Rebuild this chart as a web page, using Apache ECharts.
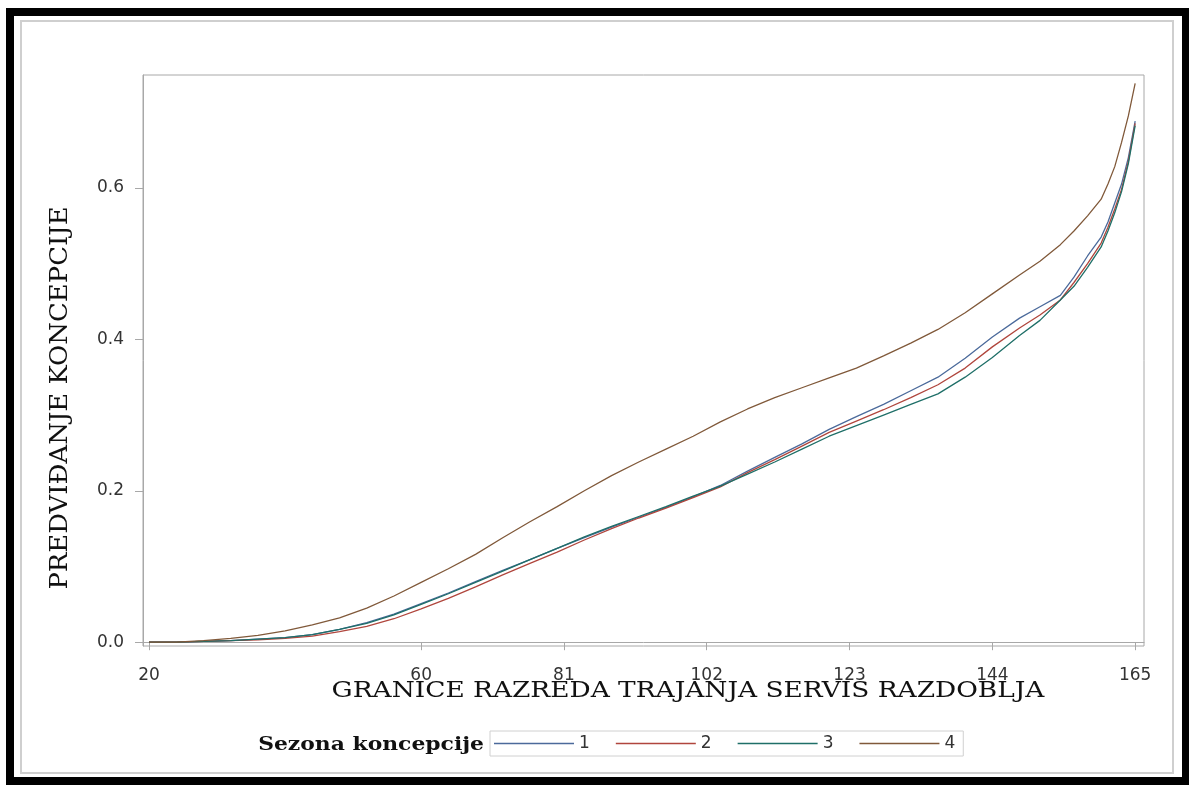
<!DOCTYPE html>
<html>
<head>
<meta charset="utf-8">
<script src="https://cdn.jsdelivr.net/npm/echarts@6/dist/echarts.min.js"></script>
<style>
html,body{margin:0;padding:0;background:#fff;}
#chart{width:1189px;height:785px;}
</style>
</head>
<body>
<div id="chart"></div>
<script>
// ---- data ----
const durations = [20, 24, 28, 32, 36, 40, 44, 48, 52, 56, 60, 64, 68, 72, 76, 80, 84, 88, 92, 96, 100, 104, 108, 112, 116, 120, 124, 128, 132, 136, 140, 144, 148, 151, 154, 156, 158, 160, 161, 162, 163, 164, 165];
const season1 = [0, 0, 0.001, 0.002, 0.004, 0.006, 0.010, 0.017, 0.026, 0.037, 0.051, 0.065, 0.080, 0.095, 0.109, 0.124, 0.138, 0.152, 0.165, 0.178, 0.192, 0.207, 0.226, 0.244, 0.262, 0.281, 0.298, 0.314, 0.332, 0.350, 0.375, 0.403, 0.428, 0.443, 0.458, 0.482, 0.510, 0.535, 0.555, 0.580, 0.605, 0.640, 0.688];
const season2 = [0, 0, 0.001, 0.002, 0.003, 0.005, 0.008, 0.014, 0.021, 0.031, 0.044, 0.058, 0.073, 0.089, 0.104, 0.119, 0.135, 0.150, 0.164, 0.177, 0.191, 0.205, 0.224, 0.241, 0.259, 0.277, 0.292, 0.307, 0.323, 0.340, 0.362, 0.390, 0.415, 0.432, 0.452, 0.475, 0.500, 0.527, 0.548, 0.572, 0.598, 0.635, 0.685];
const season3 = [0, 0, 0.001, 0.002, 0.004, 0.006, 0.010, 0.017, 0.025, 0.036, 0.050, 0.064, 0.079, 0.094, 0.109, 0.124, 0.139, 0.153, 0.166, 0.179, 0.193, 0.206, 0.222, 0.238, 0.255, 0.272, 0.286, 0.300, 0.314, 0.328, 0.350, 0.376, 0.405, 0.425, 0.452, 0.470, 0.495, 0.522, 0.543, 0.567, 0.595, 0.632, 0.682];
const season4 = [0, 0, 0.002, 0.005, 0.009, 0.015, 0.023, 0.032, 0.045, 0.061, 0.079, 0.097, 0.116, 0.138, 0.159, 0.179, 0.200, 0.220, 0.238, 0.255, 0.272, 0.291, 0.308, 0.323, 0.336, 0.349, 0.362, 0.378, 0.395, 0.413, 0.435, 0.460, 0.485, 0.503, 0.525, 0.543, 0.563, 0.585, 0.605, 0.628, 0.660, 0.695, 0.738];
const seasonNames = ['1', '2', '3', '4'];
const xTicks = [20, 60, 81, 102, 123, 144, 165];
const yTicks = [0, 0.2, 0.4, 0.6];
const xTitle = 'GRANICE RAZREDA TRAJANJA SERVIS RAZDOBLJA';
const yTitle = 'PREDVIĐANJE KONCEPCIJE';
const legendTitle = 'Sezona koncepcije';

const seriesValues = [season1, season2, season3, season4];
const colors = ['#4b6a9b', '#b0463d', '#1f6f68', '#80593a'];

const chart = echarts.init(document.getElementById('chart'));
const option = {
  backgroundColor: '#fff',
  animation: false,
  grid: {left: 143, top: 75, right: 45, bottom: 139, show: true, borderColor: '#a8a8a8', borderWidth: 1},
  xAxis: {
    type: 'value', min: 19.1, max: 166.3,
    axisLine: {show: true, lineStyle: {color: '#a8a8a8'}},
    axisTick: {show: true, length: 8, customValues: xTicks, lineStyle: {color: '#a8a8a8'}},
    axisLabel: {customValues: xTicks, margin: 21, fontFamily: 'DejaVu Sans', fontSize: 17, color: '#333'},
    splitLine: {show: false}
  },
  yAxis: {
    type: 'value', min: -0.005, max: 0.749,
    axisLine: {show: true, lineStyle: {color: '#a8a8a8'}},
    axisTick: {show: true, length: 8, customValues: yTicks, lineStyle: {color: '#a8a8a8'}},
    axisLabel: {customValues: yTicks, margin: 19, fontFamily: 'DejaVu Sans', fontSize: 17, color: '#333',
      formatter: v => v.toFixed(1)},
    splitLine: {show: false}
  },
  legend: {
    data: seasonNames,
    left: 490, top: 731,
    padding: [4, 8, 4, 4],
    itemWidth: 80, itemHeight: 14, itemGap: 26,
    borderColor: '#d0d0d0', borderWidth: 1,
    icon: 'path://M0,0 L80,0 L80,1.4 L0,1.4 Z',
    textStyle: {fontFamily: 'DejaVu Sans', fontSize: 17, color: '#333'}
  },
  graphic: [
    {type: 'rect', silent: true, shape: {x: 10, y: 12, width: 1176, height: 769},
      style: {fill: 'none', stroke: '#000', lineWidth: 8}},
    {type: 'rect', silent: true, shape: {x: 21, y: 21, width: 1152, height: 752},
      style: {fill: 'none', stroke: '#cfcfcf', lineWidth: 2}},
    {type: 'text', silent: true, x: 688, y: 691, scaleX: 1.2,
      style: {text: xTitle, align: 'center', verticalAlign: 'middle', fill: '#111',
        font: '22px "DejaVu Serif"'}},
    {type: 'text', silent: true, x: 61, y: 398, rotation: Math.PI / 2, scaleX: 1.08,
      style: {text: yTitle, align: 'center', verticalAlign: 'middle', fill: '#111',
        font: '24px "DejaVu Serif"'}},
    {type: 'text', silent: true, x: 484, y: 745, scaleX: 1.15,
      style: {text: legendTitle, align: 'right', verticalAlign: 'middle', fill: '#111',
        font: 'bold 19px "DejaVu Serif"'}}
  ],
  series: seriesValues.map((vals, i) => ({
    name: seasonNames[i],
    type: 'line',
    showSymbol: false,
    symbol: 'none',
    color: colors[i],
    lineStyle: {width: 1.3, color: colors[i]},
    data: durations.map((t, j) => [t, vals[j]])
  }))
};
chart.setOption(option);
</script>
</body>
</html>
